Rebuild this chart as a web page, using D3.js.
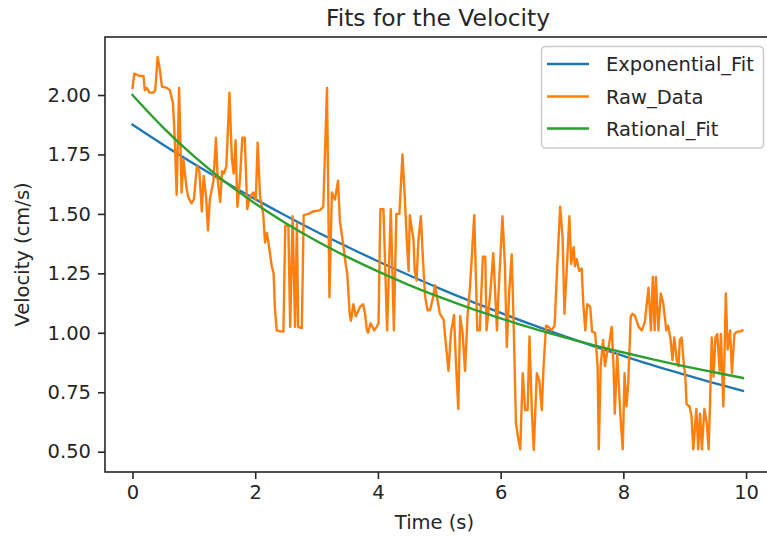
<!DOCTYPE html>
<html>
<head>
<meta charset="utf-8">
<script src="https://cdn.jsdelivr.net/npm/d3@7"></script>
<style>
  html, body { margin: 0; padding: 0; background: #fff; overflow: hidden; }
  svg { display: block; font-family: "DejaVu Sans", sans-serif; }
</style>
</head>
<body>
<svg id="chart" width="767" height="538"></svg>
<script>
// ---- data ----
const fitTime = [0, 0.5, 1, 1.5, 2, 2.5, 3, 3.5, 4, 4.5, 5, 5.5, 6, 6.5, 7, 7.5, 8, 8.5, 9, 9.5, 9.95];
const expFit = [1.875, 1.791, 1.711, 1.635, 1.562, 1.492, 1.425, 1.362, 1.301, 1.243, 1.187, 1.134, 1.084, 1.035, 0.989, 0.945, 0.903, 0.862, 0.824, 0.787, 0.756];
const ratFit = [2.000, 1.863, 1.743, 1.637, 1.544, 1.461, 1.386, 1.319, 1.258, 1.202, 1.151, 1.104, 1.061, 1.021, 0.984, 0.949, 0.917, 0.887, 0.859, 0.833, 0.810];

const rawTime = [0.00,0.03,0.12,0.18,0.20,0.23,0.28,0.34,0.37,0.41,0.45,0.48,0.56,0.61,0.66,0.69,0.72,0.76,0.80,0.83,0.88,0.91,0.96,1.00,1.05,1.09,1.13,1.16,1.20,1.23,1.26,1.32,1.36,1.39,1.43,1.46,1.49,1.53,1.58,1.62,1.65,1.68,1.71,1.75,1.79,1.83,1.87,1.91,1.97,2.01,2.04,2.08,2.13,2.16,2.19,2.21,2.27,2.30,2.32,2.35,2.43,2.46,2.49,2.54,2.57,2.61,2.65,2.68,2.70,2.76,2.79,2.87,2.94,3.05,3.11,3.17,3.21,3.25,3.30,3.35,3.38,3.44,3.48,3.50,3.54,3.56,3.60,3.64,3.71,3.76,3.79,3.82,3.84,3.88,3.94,3.98,4.01,4.04,4.09,4.15,4.21,4.26,4.30,4.35,4.40,4.44,4.47,4.50,4.52,4.58,4.60,4.63,4.66,4.70,4.74,4.77,4.81,4.85,4.90,4.93,4.97,5.01,5.07,5.09,5.15,5.19,5.24,5.27,5.31,5.34,5.38,5.42,5.46,5.50,5.57,5.62,5.66,5.71,5.75,5.77,5.83,5.88,5.94,5.96,6.03,6.07,6.10,6.14,6.18,6.21,6.25,6.29,6.32,6.36,6.40,6.44,6.47,6.51,6.54,6.59,6.63,6.67,6.70,6.74,6.78,6.83,6.88,6.91,6.97,7.01,7.04,7.08,7.12,7.15,7.19,7.21,7.24,7.28,7.32,7.35,7.38,7.41,7.46,7.49,7.54,7.58,7.60,7.63,7.67,7.70,7.73,7.76,7.81,7.84,7.86,7.90,7.95,7.99,8.02,8.05,8.08,8.12,8.15,8.19,8.25,8.30,8.35,8.41,8.45,8.48,8.51,8.53,8.57,8.61,8.65,8.70,8.73,8.77,8.80,8.83,8.87,8.90,8.92,8.95,8.98,9.01,9.03,9.08,9.11,9.14,9.19,9.22,9.25,9.28,9.32,9.36,9.39,9.41,9.44,9.47,9.50,9.53,9.57,9.59,9.63,9.67,9.70,9.74,9.77,9.81,9.85,9.90,9.94];
const rawVel = [2.03,2.09,2.08,2.08,2.02,2.03,2.01,2.01,2.02,2.16,2.10,2.035,2.03,2.02,1.965,1.81,1.58,2.03,1.59,1.73,1.61,1.57,1.545,1.56,1.70,1.68,1.51,1.66,1.57,1.43,1.56,1.64,1.82,1.64,1.55,1.68,1.67,1.70,2.01,1.73,1.67,1.81,1.53,1.64,1.82,1.82,1.52,1.57,1.59,1.56,1.80,1.57,1.50,1.38,1.42,1.39,1.28,1.25,1.11,1.01,1.005,1.005,1.45,1.45,1.025,1.49,1.025,1.46,1.025,1.02,1.495,1.50,1.51,1.515,1.53,2.03,1.15,1.59,1.56,1.64,1.47,1.36,1.28,1.25,1.08,1.05,1.12,1.07,1.11,1.12,1.08,1.01,1.00,1.04,1.01,1.025,1.04,1.52,1.52,1.01,1.52,1.01,1.50,1.50,1.75,1.56,1.39,1.26,1.495,1.39,1.26,1.22,1.39,1.49,1.28,1.15,1.095,1.095,1.15,1.20,1.14,1.08,1.055,1.00,0.84,1.00,1.075,0.885,0.68,1.07,1.00,0.84,1.07,1.19,1.495,1.01,1.01,1.32,1.32,1.01,1.165,1.335,1.01,1.14,1.49,1.28,0.94,1.17,1.33,1.06,0.62,0.55,0.51,0.83,0.675,0.675,0.985,0.66,0.507,0.83,0.80,0.675,0.86,1.03,1.025,1.01,1.03,1.21,1.53,1.40,1.08,1.28,1.49,1.29,1.36,1.28,1.31,1.26,1.27,1.11,1.01,1.12,1.11,1.005,1.00,0.86,0.51,0.86,0.97,0.86,0.91,0.94,1.025,0.86,0.66,0.91,0.66,0.51,0.83,0.69,0.79,1.07,1.08,1.07,1.025,1.01,1.045,1.19,1.01,1.235,1.01,1.235,1.01,1.165,1.125,1.01,1.03,0.97,0.885,0.98,0.885,0.86,0.97,0.98,0.885,0.815,0.70,0.69,0.65,0.51,0.68,0.51,0.66,0.51,0.68,0.62,0.51,0.68,0.98,0.815,0.98,0.995,0.84,0.995,0.69,1.165,0.93,1.01,0.83,0.995,1.005,1.005,1.01];

const xTicks = [0, 2, 4, 6, 8, 10];
const yTicks = [0.50, 0.75, 1.00, 1.25, 1.50, 1.75, 2.00];
const seriesNames = ["Exponential_Fit", "Raw_Data", "Rational_Fit"];
const seriesColors = ["#1f77b4", "#ff7f0e", "#2ca02c"];

// ---- layout ----
const svg = d3.select("#chart");
const L = 105, R = 770, T = 37, B = 472;
const fs = 19.5;
const textColor = "#262626";
const lw = 2.4;

const x = d3.scaleLinear().domain([-0.448, 10.39]).range([L, R]);
const y = d3.scaleLinear().domain([0.4146, 2.244]).range([B, T]);

svg.append("defs").append("clipPath").attr("id", "clip")
  .append("rect").attr("x", L).attr("y", T).attr("width", R - L).attr("height", B - T);

const line = d3.line().x(d => x(d[0])).y(d => y(d[1]));
const g = svg.append("g").attr("clip-path", "url(#clip)");

const series = [
  d3.zip(fitTime, expFit),
  d3.zip(rawTime, rawVel),
  d3.zip(fitTime, ratFit)
];
const curves = [d3.curveMonotoneX, d3.curveLinear, d3.curveMonotoneX];
series.forEach((s, i) => {
  g.append("path").datum(s)
    .attr("fill", "none")
    .attr("stroke", seriesColors[i])
    .attr("stroke-width", lw)
    .attr("stroke-linejoin", "round")
    .attr("stroke-linecap", "square")
    .attr("d", line.curve(curves[i]));
});

// axes
const xAxis = d3.axisBottom(x).tickValues(xTicks).tickFormat(d3.format("d")).tickSize(7).tickPadding(6);
const yAxis = d3.axisLeft(y).tickValues(yTicks).tickFormat(d3.format(".2f")).tickSize(7).tickPadding(7);

const gx = svg.append("g").attr("transform", `translate(0,${B})`).call(xAxis);
const gy = svg.append("g").attr("transform", `translate(${L},0)`).call(yAxis);
[gx, gy].forEach(a => {
  a.select(".domain").remove();
  a.selectAll(".tick line").attr("stroke", textColor).attr("stroke-width", 1.6);
  a.selectAll(".tick text").attr("fill", textColor).style("font-size", fs + "px").style("font-family", "DejaVu Sans");
});

// frame
svg.append("rect").attr("x", L).attr("y", T).attr("width", R - L).attr("height", B - T)
  .attr("fill", "none").attr("stroke", textColor).attr("stroke-width", 1.6);

// labels
svg.append("text").attr("x", (L + R) / 2 - 3).attr("y", 529)
  .attr("text-anchor", "middle").attr("fill", textColor).style("font-size", fs + "px")
  .text("Time (s)");
svg.append("text").attr("transform", `translate(29,${(T + B) / 2}) rotate(-90)`)
  .attr("text-anchor", "middle").attr("fill", textColor).style("font-size", fs + "px")
  .text("Velocity (cm/s)");
svg.append("text").attr("x", 438).attr("y", 26)
  .attr("text-anchor", "middle").attr("fill", textColor).style("font-size", (fs * 1.2) + "px")
  .text("Fits for the Velocity");

// legend
const lg = svg.append("g");
lg.append("rect").attr("x", 541.5).attr("y", 46.5).attr("width", 222).attr("height", 101.5)
  .attr("rx", 4).attr("fill", "#fff").attr("fill-opacity", 0.8)
  .attr("stroke", "#cccccc").attr("stroke-width", 1.6);
const rowY = [64, 96.5, 128.5];
seriesNames.forEach((n, i) => {
  lg.append("line").attr("x1", 547).attr("x2", 589).attr("y1", rowY[i]).attr("y2", rowY[i])
    .attr("stroke", seriesColors[i]).attr("stroke-width", lw);
  lg.append("text").attr("x", 606).attr("y", rowY[i]).attr("dy", "0.36em")
    .attr("fill", textColor).style("font-size", fs + "px").text(n);
});
</script>
</body>
</html>
